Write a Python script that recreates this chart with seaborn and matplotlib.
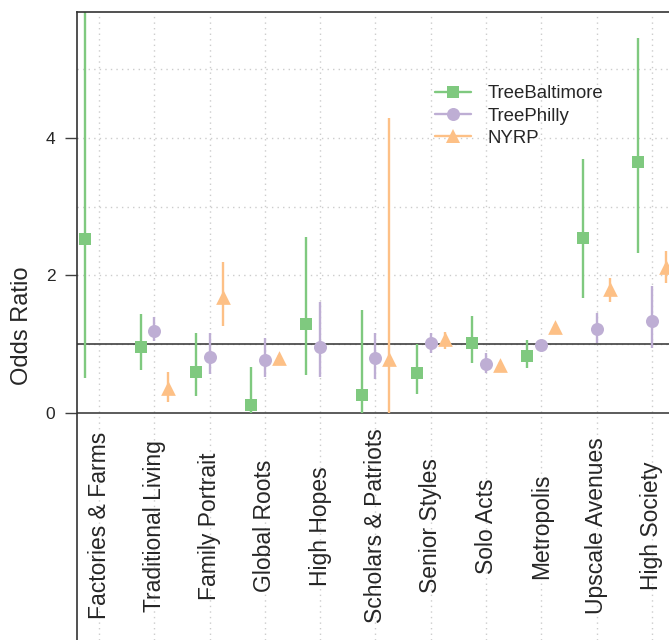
import numpy as np
import pandas as pd
import matplotlib.pyplot as plt
from matplotlib.lines import Line2D
import seaborn as sns

categories = ['Factories & Farms', 'Traditional Living', 'Family Portrait', 'Global Roots',
              'High Hopes', 'Scholars & Patriots', 'Senior Styles', 'Solo Acts',
              'Metropolis', 'Upscale Avenues', 'High Society']
programs = ['TreeBaltimore', 'TreePhilly', 'NYRP']

# odds ratio estimates and 95% bounds
balt_or = [2.53, 0.96, 0.59, 0.11, 1.30, 0.26, 0.58, 1.02, 0.83, 2.54, 3.65]
balt_lo = [0.51, 0.63, 0.25, 0.00, 0.55, 0.00, 0.28, 0.72, 0.65, 1.67, 2.32]
balt_hi = [7.50, 1.44, 1.17, 0.67, 2.56, 1.50, 1.01, 1.41, 1.06, 3.70, 5.45]

phil_or = [np.nan, 1.19, 0.82, 0.77, 0.96, 0.80, 1.02, 0.71, 0.99, 1.22, 1.34]
phil_lo = [np.nan, 1.04, 0.57, 0.53, 0.53, 0.50, 0.87, 0.58, 0.96, 1.02, 0.94]
phil_hi = [np.nan, 1.39, 1.17, 1.09, 1.61, 1.17, 1.17, 0.87, 1.02, 1.46, 1.84]

nyrp_or = [np.nan, 0.36, 1.69, 0.80, np.nan, 0.78, 1.07, 0.70, 1.25, 1.80, 2.13]
nyrp_lo = [np.nan, 0.16, 1.27, 0.75, np.nan, 0.00, 0.93, 0.66, 1.21, 1.62, 1.89]
nyrp_hi = [np.nan, 0.60, 2.20, 0.85, np.nan, 4.29, 1.18, 0.74, 1.29, 1.96, 2.36]

frames = []
for prog, est, lo, hi in zip(programs, [balt_or, phil_or, nyrp_or],
                             [balt_lo, phil_lo, nyrp_lo], [balt_hi, phil_hi, nyrp_hi]):
    frames.append(pd.DataFrame({'category': categories, 'program': prog,
                                'est': est, 'lo': lo, 'hi': hi}))
df = pd.concat(frames, ignore_index=True).dropna()

offsets = {'TreeBaltimore': -0.25, 'TreePhilly': 0.0, 'NYRP': 0.25}
df['x'] = df['category'].map({c: i for i, c in enumerate(categories)}) + df['program'].map(offsets)

pal = sns.color_palette('Accent', 3)
colors = dict(zip(programs, pal))
markers = {'TreeBaltimore': 's', 'TreePhilly': 'o', 'NYRP': '^'}
msize = {'TreeBaltimore': 74, 'TreePhilly': 88, 'NYRP': 112}

sns.set_style('white')
plt.rcParams['font.family'] = ['Liberation Sans', 'DejaVu Sans']

fig = plt.figure(figsize=(6.69, 6.40), dpi=100)
ax = fig.add_axes([77 / 669, 0.0, 1 - 77 / 669, 1 - 12 / 640])

# grid
for i in range(len(categories)):
    ax.axvline(i, color='#cccccc', lw=1.0, ls=(0, (1, 3)), zorder=0)
for yv in [1, 2, 3, 4, 5]:
    ax.axhline(yv, color='#cccccc', lw=1.0, ls=(0, (1, 3)), zorder=0)
ax.axhline(1, color='#404040', lw=1.2, zorder=1)
ax.axhline(0, color='#404040', lw=1.2, zorder=1)

for prog in programs:
    sub = df[df['program'] == prog]
    ax.vlines(sub['x'], sub['lo'], sub['hi'], color=colors[prog], lw=1.7, zorder=2)
    sns.scatterplot(data=sub, x='x', y='est', color=colors[prog], marker=markers[prog],
                    s=msize[prog], linewidth=0, ax=ax, zorder=3, legend=False)

for i, c in enumerate(categories):
    ax.text(i, -1.64, c, rotation=90, ha='center', va='center', fontsize=16.5)

ax.set_xlim(-0.4, 10.31)
ax.set_ylim(-3.30, 5.83)
ax.set_xticks([])
ax.set_yticks([0, 2, 4])
ax.tick_params(axis='y', length=8.6, width=1.0, color='#404040', pad=7, labelsize=12.5, left=True)
ax.set_xlabel('')
ax.set_ylabel('Odds Ratio', fontsize=17)
ax.yaxis.set_label_coords(-0.074, 0.5)

for side in ['right', 'bottom']:
    ax.spines[side].set_visible(False)
for side in ['left', 'top']:
    ax.spines[side].set_color('#333333')
    ax.spines[side].set_linewidth(1.2)

handles = [Line2D([0], [0], color=colors[p], lw=1.7, marker=markers[p],
                  markersize=np.sqrt(msize[p]), markeredgewidth=0) for p in programs]
ax.legend(handles, programs, loc='upper left', bbox_to_anchor=(0.605, 0.8836),
          frameon=False, fontsize=13.4, handlelength=1.9, handletextpad=0.9,
          labelspacing=0.29, borderpad=0, borderaxespad=0)

fig.savefig('out.png', dpi=100)
